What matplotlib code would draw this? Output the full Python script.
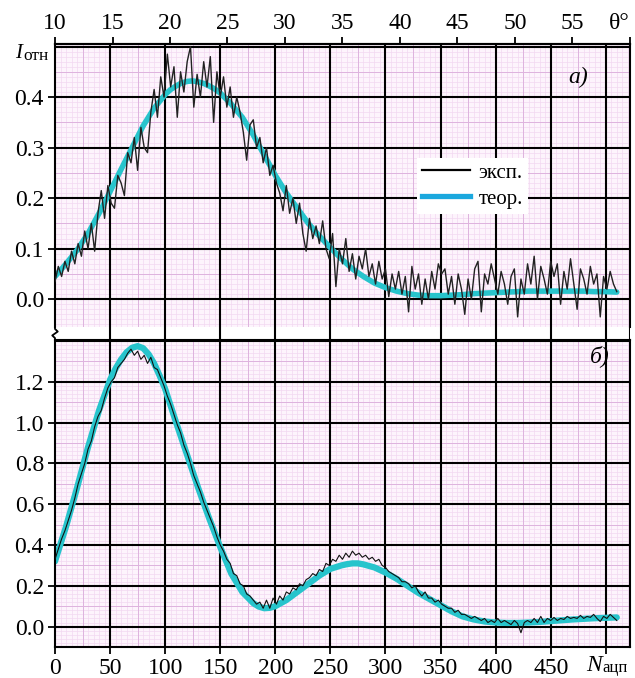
import numpy as np
import matplotlib.pyplot as plt
from matplotlib.lines import Line2D
from matplotlib.ticker import MultipleLocator

plt.rcParams['font.family'] = ['Liberation Serif', 'DejaVu Serif']

# === Daten ===
N_MAX = 522.0          # rechter Rand in Kanälen (entspricht theta = 60°)
theta_ticks = [10, 15, 20, 25, 30, 35, 40, 45, 50, 55, 60]
n_ticks = [0, 50, 100, 150, 200, 250, 300, 350, 400, 450, 500]

# Panel a): Theorie
n_theo_a = [0, 10, 20, 30, 40, 50, 60, 70, 80, 90, 100, 105, 110, 115, 120,
            125, 130, 135, 140, 145, 150, 160, 170, 180, 190, 200, 210, 220,
            230, 240, 250, 260, 270, 280, 290, 300, 310, 320, 330, 340, 350,
            360, 370, 380, 390, 400, 410, 420, 430, 440, 450, 460, 470, 480,
            490, 500, 510]
a_theo = [0.045, 0.070, 0.097, 0.130, 0.170, 0.213, 0.257, 0.300, 0.343, 0.378,
          0.405, 0.415, 0.422, 0.428, 0.431, 0.432, 0.430, 0.427, 0.422, 0.416,
          0.408, 0.386, 0.360, 0.325, 0.285, 0.245, 0.210, 0.180, 0.150, 0.125,
          0.102, 0.080, 0.060, 0.045, 0.032, 0.023, 0.016, 0.011, 0.008, 0.007,
          0.007, 0.008, 0.009, 0.011, 0.012, 0.013, 0.014, 0.015, 0.016, 0.016,
          0.016, 0.016, 0.016, 0.016, 0.015, 0.015, 0.014]

# Panel a): Experiment (Schritt 3)
n_exp = np.arange(0, 511, 3)
a_exp = [0.035, 0.065, 0.045, 0.075, 0.055, 0.095, 0.070, 0.110, 0.085, 0.135,
         0.100, 0.150, 0.095, 0.170, 0.215, 0.160, 0.225, 0.190, 0.180, 0.245,
         0.230, 0.205, 0.290, 0.270, 0.320, 0.255, 0.340, 0.300, 0.290, 0.370,
         0.415, 0.360, 0.440, 0.400, 0.485, 0.420, 0.460, 0.360, 0.450, 0.410,
         0.470, 0.500, 0.380, 0.445, 0.400, 0.470, 0.420, 0.480, 0.350, 0.450,
         0.400, 0.440, 0.380, 0.420, 0.360, 0.400, 0.370, 0.330, 0.275, 0.345,
         0.355, 0.300, 0.320, 0.270, 0.300, 0.245, 0.265, 0.230, 0.210, 0.175,
         0.225, 0.170, 0.200, 0.150, 0.190, 0.130, 0.095, 0.160, 0.120, 0.145,
         0.110, 0.155, 0.100, 0.080, 0.130, 0.025, 0.100, 0.070, 0.120, 0.055,
         0.090, 0.040, 0.085, 0.060, 0.100, 0.045, 0.070, 0.030, 0.075, 0.040,
         0.060, 0.005, 0.050, 0.020, 0.055, 0.010, 0.045, -0.025, 0.065, 0.020,
         0.050, -0.010, 0.040, 0.000, 0.055, 0.020, 0.070, 0.050, 0.060, 0.010,
         0.045, -0.010, 0.050, 0.020, -0.030, 0.040, 0.000, 0.060, 0.075, -0.025,
         0.050, 0.030, 0.070, 0.040, 0.010, 0.055, 0.030, -0.010, 0.045, 0.060,
         -0.035, 0.040, 0.010, 0.070, 0.030, 0.085, 0.000, 0.065, 0.040, 0.010,
         0.075, 0.045, 0.070, -0.010, 0.055, 0.020, 0.080, 0.030, -0.020, 0.060,
         0.040, 0.010, 0.065, 0.030, 0.050, -0.035, 0.045, 0.020, 0.055, 0.030,
         0.015]

# Panel б): Theorie
n_theo_b = [0, 10, 20, 30, 40, 50, 55, 60, 65, 70, 75, 80, 85, 90, 95, 100,
            110, 120, 130, 140, 150, 160, 170, 180, 185, 190, 195, 200, 210,
            220, 230, 240, 250, 260, 265, 270, 275, 280, 290, 300, 310, 320,
            330, 340, 350, 360, 370, 380, 390, 400, 410, 420, 430, 440, 450,
            460, 470, 480, 490, 500, 510]
b_theo = [0.320, 0.490, 0.680, 0.880, 1.060, 1.210, 1.265, 1.310, 1.345, 1.367,
          1.375, 1.365, 1.335, 1.290, 1.230, 1.165, 1.000, 0.840, 0.680, 0.530,
          0.390, 0.260, 0.170, 0.115, 0.098, 0.090, 0.092, 0.100, 0.130, 0.170,
          0.210, 0.250, 0.283, 0.300, 0.306, 0.310, 0.310, 0.305, 0.290, 0.265,
          0.235, 0.200, 0.165, 0.135, 0.105, 0.075, 0.050, 0.035, 0.025, 0.020,
          0.018, 0.018, 0.020, 0.023, 0.027, 0.031, 0.035, 0.038, 0.041, 0.043,
          0.045]

# Panel б): Experiment (Schritt 3)
b_exp = [0.33, 0.38, 0.43, 0.47, 0.52, 0.57, 0.63, 0.70, 0.75, 0.80,
         0.87, 0.91, 0.98, 1.03, 1.06, 1.12, 1.17, 1.20, 1.22, 1.27,
         1.29, 1.31, 1.34, 1.36, 1.33, 1.35, 1.31, 1.33, 1.29, 1.32,
         1.27, 1.26, 1.22, 1.18, 1.13, 1.09, 1.04, 0.99, 0.95, 0.89,
         0.85, 0.80, 0.74, 0.70, 0.66, 0.61, 0.57, 0.53, 0.49, 0.44,
         0.40, 0.37, 0.33, 0.31, 0.26, 0.25, 0.21, 0.20, 0.16, 0.15,
         0.13, 0.11, 0.12, 0.09, 0.13, 0.09, 0.14, 0.11, 0.15, 0.13,
         0.17, 0.16, 0.19, 0.18, 0.21, 0.20, 0.23, 0.24, 0.26, 0.25,
         0.28, 0.27, 0.31, 0.30, 0.33, 0.32, 0.35, 0.33, 0.36, 0.34,
         0.37, 0.35, 0.36, 0.34, 0.35, 0.33, 0.34, 0.32, 0.33, 0.30,
         0.29, 0.27, 0.26, 0.25, 0.24, 0.22, 0.22, 0.21, 0.19, 0.20,
         0.17, 0.15, 0.17, 0.14, 0.14, 0.12, 0.13, 0.11, 0.10, 0.09,
         0.09, 0.07, 0.08, 0.06, 0.06, 0.05, 0.04, 0.05, 0.04, 0.03,
         0.04, 0.02, 0.03, 0.02, 0.04, 0.02, 0.03, 0.02, 0.01, 0.03,
         0.015, -0.03, 0.02, 0.03, 0.02, 0.04, 0.02, 0.05, 0.02, 0.04,
         0.03, 0.045, 0.03, 0.04, 0.035, 0.05, 0.04, 0.045, 0.04, 0.055,
         0.04, 0.05, 0.045, 0.06, 0.04, 0.025, 0.05, 0.04, 0.06, 0.045,
         0.03]

# === Farben ===
c_theo = '#27c4cc'
c_leg = '#1ba8de'
c_bg = '#fdf4fc'
c_fine = '#f2d8f1'
c_mid = '#deb3de'

W, H = 635, 678
fig = plt.figure(figsize=(W / 100, H / 100), dpi=100)

ax1 = fig.add_axes([55 / W, 1 - 327 / H, 575 / W, 283 / H])
ax2 = fig.add_axes([55 / W, 1 - 647 / H, 575 / W, 307 / H])
gap = fig.add_axes([55 / W, 1 - 340 / H, 575 / W, 13 / H])


def paper_grid(ax, ymin, ymax, ymajor, yfine):
    ax.set_facecolor(c_bg)
    ax.set_axisbelow(True)
    ax.set_xlim(0, N_MAX)
    ax.set_ylim(ymin, ymax)
    ax.xaxis.set_minor_locator(MultipleLocator(5))
    ax.yaxis.set_minor_locator(MultipleLocator(yfine))
    ax.grid(which='minor', color=c_fine, lw=0.5)
    # Hilfslinien (Mitte jeder Zelle)
    for x in np.arange(25, N_MAX, 50):
        ax.axvline(x, color=c_mid, lw=0.7, zorder=0.8)
    for y in np.arange(ymajor / 2, ymax, ymajor):
        ax.axhline(y, color=c_mid, lw=0.7, zorder=0.8)
    # schwarzes Hauptgitter über dem feinen Gitter
    for x in np.arange(50, N_MAX, 50):
        ax.axvline(x, color='k', lw=1.5, zorder=1)
    for y in np.arange(0, ymax, ymajor):
        ax.axhline(y, color='k', lw=1.5, zorder=1)
    ax.tick_params(which='minor', length=0)
    ax.tick_params(which='major', direction='out', length=5, width=1.3,
                   labelsize=17, pad=3)
    for s in ax.spines.values():
        s.set_linewidth(1.5)


# === Panel a) ===
paper_grid(ax1, -0.055, 0.505, 0.1, 0.01)
ax1.set_xticks(n_ticks)
ax1.tick_params(axis='x', bottom=False, labelbottom=False)
ax1.set_yticks([0.0, 0.1, 0.2, 0.3, 0.4], ['0.0', '0.1', '0.2', '0.3', '0.4'])
ax1.spines['bottom'].set_visible(False)
ax1.plot(n_theo_a, a_theo, color=c_theo, lw=4, solid_capstyle='round', zorder=2)
ax1.plot(n_exp, a_exp, color='#222222', lw=1.0, zorder=3)

sec = ax1.secondary_xaxis('top', functions=(lambda n: 10 + 50 * n / N_MAX,
                                            lambda t: (t - 10) * N_MAX / 50))
sec.set_xticks(theta_ticks, [str(t) for t in theta_ticks[:-1]] + ['θ°'])
sec.tick_params(direction='out', length=5, width=1.3, labelsize=17, pad=2)
sec.spines['top'].set_linewidth(1.5)
sec.get_xticklabels()[-1].set_horizontalalignment('right')

ax1.text(0.910, 0.883, 'а)', transform=ax1.transAxes, fontsize=17,
         style='italic', ha='center', va='center')

handles = [Line2D([], [], color='k', lw=1.6),
           Line2D([], [], color=c_leg, lw=3.8)]
leg = ax1.legend(handles, ['эксп.', 'теор.'], loc='lower left',
                 bbox_to_anchor=(0.63, 0.40), fontsize=15, frameon=True,
                 facecolor='white', edgecolor='none', framealpha=1,
                 fancybox=False, handlelength=2.3, handletextpad=0.4,
                 labelspacing=0.3, borderpad=0.25, borderaxespad=0)
leg.set_zorder(5)

# === Panel б) ===
paper_grid(ax2, -0.1, 1.405, 0.2, 0.02)
ax2.set_xticks(n_ticks, [str(n) for n in n_ticks[:-1]] + [''])
ax2.set_yticks([0.0, 0.2, 0.4, 0.6, 0.8, 1.0, 1.2],
               ['0.0', '0.2', '0.4', '0.6', '0.8', '1.0', '1.2'])
ax2.tick_params(axis='x', pad=3)
ax2.plot(n_theo_b, b_theo, color=c_theo, lw=4.5, solid_capstyle='round', zorder=2)
ax2.plot(n_exp, b_exp, color='#111111', lw=0.8, zorder=3)
ax2.text(0.948, 0.948, 'б)', transform=ax2.transAxes, fontsize=17,
         style='italic', ha='center', va='center')

# === Lücke zwischen den Panels ===
gap.set_xlim(0, N_MAX)
gap.set_ylim(0, 1)
gap.axis('off')
gap.vlines(n_ticks[1:] + [N_MAX], 0, 1, color='k', lw=1.5)
gap.plot([0, 0, 2.5, -2.5, 0, 0], [1.0, 0.85, 0.65, 0.35, 0.15, 0.0],
         color='k', lw=1.3, clip_on=False)

# === Achsenbeschriftungen ===
fig.text(15 / W, 1 - 58 / H, 'I', fontsize=15, style='italic', va='baseline')
fig.text(23 / W, 1 - 60 / H, 'отн', fontsize=12.5, va='baseline')
fig.text(586 / W, 1 - 671 / H, 'N', fontsize=17, style='italic', va='baseline')
fig.text(602 / W, 1 - 672 / H, 'ацп', fontsize=12, va='baseline')

fig.savefig('out.png', dpi=100)
